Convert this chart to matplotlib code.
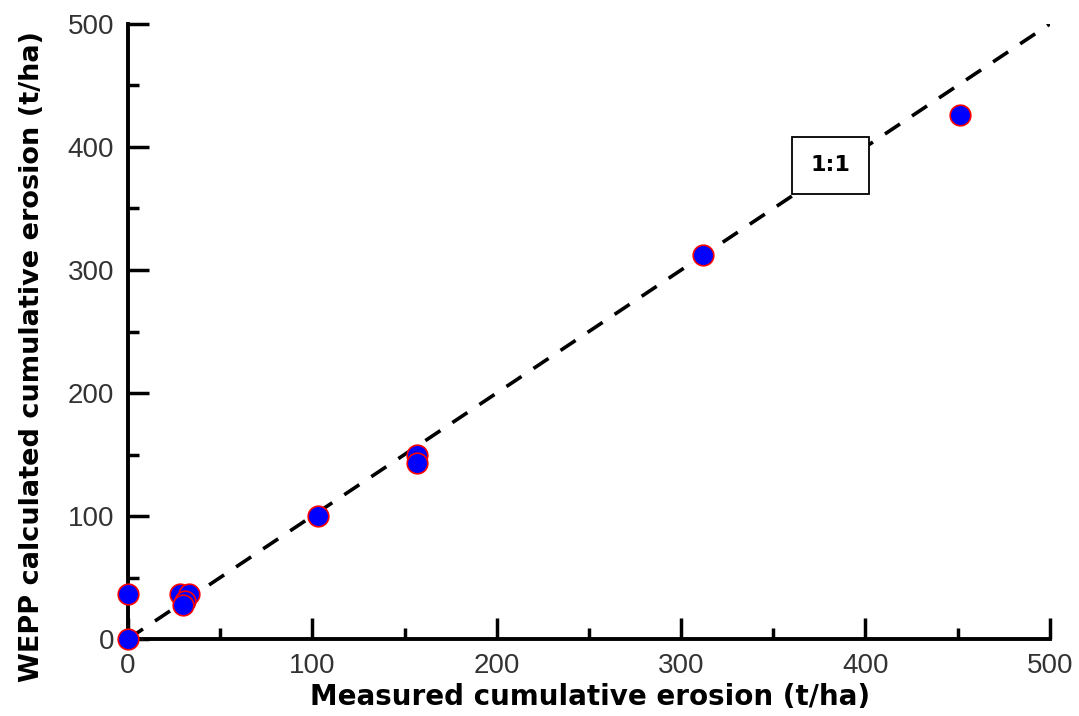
import matplotlib
matplotlib.use("Agg")
import matplotlib.pyplot as plt
from matplotlib.ticker import MultipleLocator

# measured vs WEPP-calculated cumulative erosion (t/ha)
measured = [0, 0, 28, 33, 31, 30, 103, 157, 157, 312, 451]
calculated = [0, 37, 37, 37, 31, 28, 100, 150, 143, 312, 426]
line_x = [0, 500]
line_y = [0, 500]

fig = plt.figure(figsize=(10.79, 7.16), dpi=100)
ax = fig.add_axes([0.1186, 0.1075, 0.8544, 0.859])

ax.plot(line_x, line_y, color="black", lw=2.6, ls=(0, (5, 4)), zorder=2)
ax.scatter(measured, calculated, s=220, c="#0000ff", edgecolors="#ff0000",
           linewidths=1.2, zorder=3, clip_on=False)

ax.text(381, 385, "1:1", ha="center", va="center", fontsize=16, fontweight="bold",
        bbox=dict(boxstyle="square,pad=0.85", fc="white", ec="black", lw=1.3), zorder=4)

ax.set_xlim(0, 500)
ax.set_ylim(0, 500)
ax.xaxis.set_major_locator(MultipleLocator(100))
ax.xaxis.set_minor_locator(MultipleLocator(50))
ax.yaxis.set_major_locator(MultipleLocator(100))
ax.yaxis.set_minor_locator(MultipleLocator(50))
for s in ("top", "right"):
    ax.spines[s].set_visible(False)
for s in ("left", "bottom"):
    ax.spines[s].set_linewidth(2.8)
ax.tick_params(which="major", direction="in", length=15, width=2.5,
               labelsize=20, labelcolor="#333333", pad=10)
ax.tick_params(which="minor", direction="in", length=8, width=2.5)
for lab in ax.get_xticklabels() + ax.get_yticklabels():
    lab.set_family("Liberation Sans")

ax.set_xlabel("Measured cumulative erosion (t/ha)", fontsize=20, fontweight="bold", va="center")
ax.xaxis.set_label_coords(0.501, -0.094)
ax.set_ylabel("WEPP calculated cumulative erosion (t/ha)", fontsize=19.5, fontweight="bold", va="center")
ax.yaxis.set_label_coords(-0.104, 0.46)

fig.savefig("out.png", dpi=100)
